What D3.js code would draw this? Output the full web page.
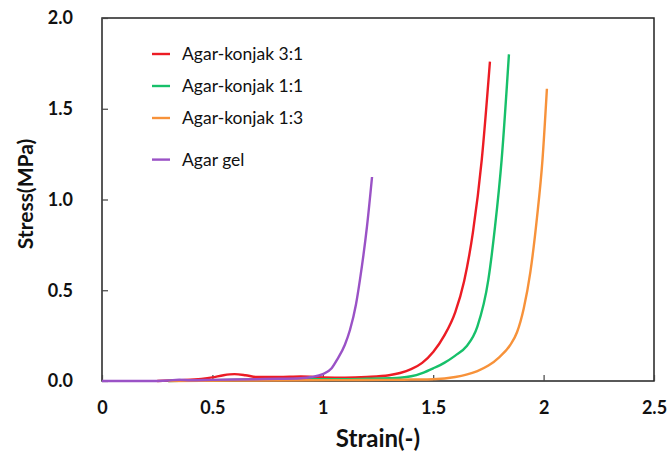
<!DOCTYPE html>
<html>
<head>
<meta charset="utf-8">
<script src="https://cdn.jsdelivr.net/npm/d3@7"></script>
<style>
  body { margin: 0; background: #fff; }
  svg { display: block; font-family: Lato, "Open Sans", sans-serif; }
</style>
</head>
<body>
<script>
const WIDTH = 667;
const HEIGHT = 454;
const margin = { top: 18, right: 13, bottom: 73, left: 102 };

// strain (-) / stress (MPa)
const redStrain = [0.25, 0.35, 0.45, 0.5, 0.55, 0.6, 0.65, 0.7, 0.8, 0.9, 1.0, 1.1, 1.2, 1.3, 1.35, 1.4, 1.45, 1.5, 1.55, 1.6, 1.64, 1.68, 1.72, 1.757];
const redStress = [0, 0.005, 0.012, 0.02, 0.032, 0.038, 0.032, 0.022, 0.022, 0.025, 0.02, 0.018, 0.022, 0.032, 0.044, 0.065, 0.1, 0.16, 0.25, 0.38, 0.55, 0.82, 1.22, 1.76];

const greenStrain = [0.3, 0.5, 0.7, 0.9, 1.0, 1.1, 1.2, 1.3, 1.35, 1.4, 1.45, 1.5, 1.55, 1.6, 1.65, 1.7, 1.75, 1.78, 1.81, 1.843];
const greenStress = [0, 0.005, 0.008, 0.01, 0.01, 0.01, 0.012, 0.015, 0.018, 0.026, 0.044, 0.07, 0.1, 0.14, 0.19, 0.3, 0.56, 0.85, 1.22, 1.8];

const orangeStrain = [0.3, 0.6, 0.9, 1.1, 1.3, 1.4, 1.5, 1.6, 1.65, 1.7, 1.75, 1.8, 1.85, 1.88, 1.91, 1.94, 1.97, 1.995, 2.015];
const orangeStress = [0, 0.002, 0.004, 0.005, 0.006, 0.008, 0.01, 0.022, 0.035, 0.055, 0.085, 0.132, 0.2, 0.27, 0.4, 0.6, 0.9, 1.22, 1.61];

const purpleStrain = [0, 0.2, 0.3, 0.35, 0.4, 0.5, 0.6, 0.7, 0.8, 0.9, 0.95, 1.0, 1.04, 1.064, 1.1, 1.123, 1.15, 1.168, 1.2, 1.223];
const purpleStress = [0, 0, 0.003, 0.007, 0.004, 0.006, 0.008, 0.01, 0.012, 0.015, 0.022, 0.038, 0.07, 0.116, 0.2, 0.281, 0.42, 0.556, 0.85, 1.124];

const seriesNames = ['Agar-konjak 3:1', 'Agar-konjak 1:1', 'Agar-konjak 1:3', 'Agar gel'];
const seriesColors = ['#ec1c24', '#17c06a', '#f7923a', '#9a52c6'];
const legendRows = [0, 1, 2, 3.3];

const xTicks = [0, 0.5, 1, 1.5, 2, 2.5];
const xTickLabels = ['0', '0.5', '1', '1.5', '2', '2.5'];
const yTicks = [0, 0.5, 1, 1.5, 2];
const yTickLabels = ['0.0', '0.5', '1.0', '1.5', '2.0'];

const series = [
  [redStrain, redStress],
  [greenStrain, greenStress],
  [orangeStrain, orangeStress],
  [purpleStrain, purpleStress]
].map(([xs, ys], i) => ({
  name: seriesNames[i],
  color: seriesColors[i],
  points: xs.map((x, j) => ({ x, y: ys[j] }))
}));

const svg = d3.select('body').append('svg')
  .attr('width', WIDTH)
  .attr('height', HEIGHT);

const x = d3.scaleLinear().domain([0, 2.5]).range([margin.left, WIDTH - margin.right]);
const y = d3.scaleLinear().domain([0, 2]).range([HEIGHT - margin.bottom, margin.top]);

// frame
svg.append('rect')
  .attr('x', x(0))
  .attr('y', y(2))
  .attr('width', x(2.5) - x(0))
  .attr('height', y(0) - y(2))
  .attr('fill', 'none')
  .attr('stroke', '#222')
  .attr('stroke-width', 1.5);

// ticks point inwards
const xAxis = svg.append('g')
  .attr('transform', `translate(0,${y(0)})`)
  .call(d3.axisBottom(x).tickValues(xTicks).tickSize(-6).tickFormat((d, i) => xTickLabels[i]).tickPadding(20));
xAxis.select('.domain').remove();

const yAxis = svg.append('g')
  .attr('transform', `translate(${x(0)},0)`)
  .call(d3.axisLeft(y).tickValues(yTicks).tickSize(-6).tickFormat((d, i) => yTickLabels[i]).tickPadding(29));
yAxis.select('.domain').remove();

svg.selectAll('.tick line').attr('stroke', '#444').attr('stroke-width', 1.2);
svg.selectAll('.tick text')
  .attr('font-family', 'Lato, sans-serif')
  .attr('font-size', 18)
  .attr('font-weight', 'bold')
  .attr('fill', '#111');

// curves
const line = d3.line()
  .x(d => x(d.x))
  .y(d => y(d.y))
  .curve(d3.curveMonotoneX);

svg.append('g')
  .selectAll('path')
  .data(series)
  .join('path')
  .attr('d', d => line(d.points))
  .attr('fill', 'none')
  .attr('stroke', d => d.color)
  .attr('stroke-width', 2.4)
  .attr('stroke-linejoin', 'round');

// legend
const legend = svg.append('g')
  .selectAll('g')
  .data(series)
  .join('g')
  .attr('transform', (d, i) => `translate(152,${54 + legendRows[i] * 32})`);

legend.append('line')
  .attr('x1', 0).attr('x2', 18)
  .attr('stroke', d => d.color)
  .attr('stroke-width', 2.4);

legend.append('text')
  .attr('x', 30)
  .attr('dy', '0.35em')
  .attr('font-size', 17.5)
  .attr('fill', '#111')
  .text(d => d.name);

// axis titles
svg.append('text')
  .attr('x', (x(0) + x(2.5)) / 2)
  .attr('y', 447)
  .attr('text-anchor', 'middle')
  .attr('font-size', 24)
  .attr('font-weight', 'bold')
  .attr('fill', '#111')
  .text('Strain(-)');

svg.append('text')
  .attr('transform', 'translate(33,194) rotate(-90)')
  .attr('text-anchor', 'middle')
  .attr('font-size', 21)
  .attr('font-weight', 'bold')
  .attr('fill', '#111')
  .text('Stress(MPa)');
</script>
</body>
</html>
